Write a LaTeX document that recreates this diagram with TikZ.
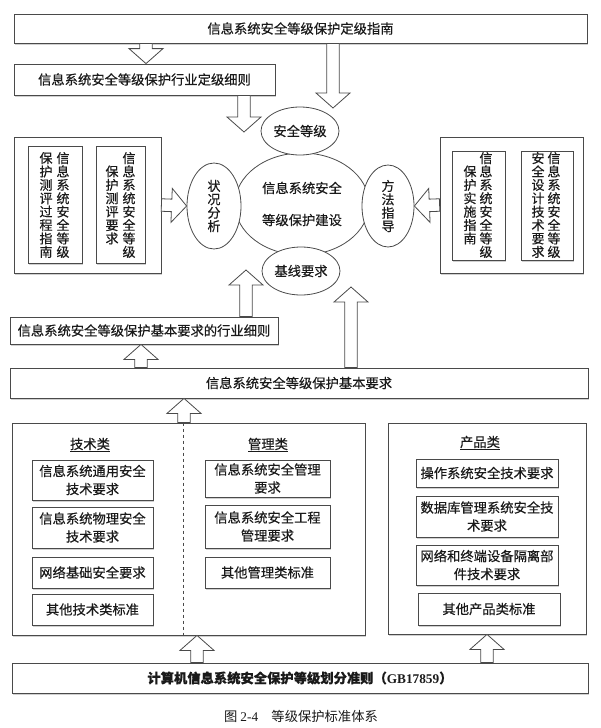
\documentclass[tikz,border=0pt]{standalone}
\usepackage{fontspec}
\setmainfont{Noto Sans CJK SC}[FakeBold=0.4]
\newfontfamily\capf{Noto Sans CJK SC}
\newfontfamily\latf{Liberation Serif}
\usetikzlibrary{shapes.geometric,calc,shadows}
\definecolor{ln}{HTML}{4A4A4A}
\definecolor{tx}{HTML}{1A1A1A}
\newcommand\myfs{\fontsize{13.3}{18}\selectfont}
\newcommand\myvs{\fontsize{13}{13.4}\selectfont\lineskiplimit=-6pt}
\tikzset{
 box/.style={draw=ln, line width=0.8pt, fill=white, inner sep=0pt, text=tx, font=\myfs, align=center,
   drop shadow={shadow xshift=1pt, shadow yshift=-1.8pt, fill=black!30, opacity=0.6}},
 ell/.style={ellipse, draw=ln, line width=0.8pt, fill=white, inner sep=0pt, text=tx, font=\myfs, align=center},
 barrow/.style={draw=ln, line width=0.8pt, fill=white, line join=miter},
 vcol/.style={inner sep=0pt, text=tx, font=\myvs, align=center},
 headtxt/.style={inner sep=0pt, text=tx, font=\myfs},
 divider/.style={draw=ln, line width=0.6pt, dashed},
}
% hollow block arrow from #1 (tail) to #2 (tip)
\newcommand\barr[2]{%
\draw[barrow] let \p1=(#1), \p2=(#2), \n1={atan2(\y2-\y1,\x2-\x1)}, \n2={veclen(\x2-\x1,\y2-\y1)} in
 ($(\p1)+(\n1+90:6.25pt)$) -- ($(\p1)+(\n1:\n2*1pt-15pt)+(\n1+90:6.25pt)$) --
 ($(\p1)+(\n1:\n2*1pt-15pt)+(\n1+90:17pt)$) -- (\p2) --
 ($(\p1)+(\n1:\n2*1pt-15pt)+(\n1-90:17pt)$) -- ($(\p1)+(\n1:\n2*1pt-15pt)+(\n1-90:6.25pt)$) --
 ($(\p1)+(\n1-90:6.25pt)$) -- cycle;}
\begin{document}
\begin{tikzpicture}[x=1pt,y=-1pt]
\path[use as bounding box, fill=white] (0,0) rectangle (600,728);
% ---------- top
\node[box, minimum width=573pt, minimum height=29pt] (top) at (300.5,28.5) {信息系统安全等级保护定级指南};
\node[box, minimum width=261pt, minimum height=31pt] (hd) at (144.5,79.5) {信息系统安全等级保护行业定级细则};
% ---------- left panel
\node[box, minimum width=147pt, minimum height=136pt] (lp) at (87.5,205) {};
\node[box, minimum width=54pt, minimum height=117pt] (lp1) at (55,204.5) {};
\node[box, minimum width=49pt, minimum height=117pt] (lp2) at (120.5,204.5) {};
\node[vcol] (lp1a) at (63,205) {信\\息\\系\\统\\安\\全\\等\\级};
\node[vcol] (lp1b) at (46,205) {保\\护\\测\\评\\过\\程\\指\\南};
\node[vcol] (lp2a) at (129,205) {信\\息\\系\\统\\安\\全\\等\\级};
\node[vcol] (lp2b) at (112,205) {保\\护\\测\\评\\要\\求};
% ---------- right panel
\node[box, minimum width=143pt, minimum height=136pt] (rp) at (511.5,205) {};
\node[box, minimum width=53pt, minimum height=109pt] (rp1) at (478.5,205.5) {};
\node[box, minimum width=52pt, minimum height=109pt] (rp2) at (547,205.5) {};
\node[vcol] (rp1a) at (486,205) {信\\息\\系\\统\\安\\全\\等\\级};
\node[vcol] (rp1b) at (470,205) {保\\护\\实\\施\\指\\南};
\node[vcol] (rp2a) at (554,205) {信\\息\\系\\统\\安\\全\\等\\级};
\node[vcol] (rp2b) at (538,205) {安\\全\\设\\计\\技\\术\\要\\求};
% ---------- centre ellipses
\node[ell, minimum width=134pt, minimum height=102pt, font={\fontsize{13.3}{32}\selectfont}] (core) at (302,204) {信息系统安全\\等级保护建设};
\node[ell, minimum width=78pt, minimum height=48pt] (aq) at (300,131) {安全等级};
\node[ell, minimum width=78pt, minimum height=48pt] (jx) at (301,271) {基线要求};
\node[ell, minimum width=54pt, minimum height=86pt, font=\myvs] (zk) at (214,206) {状\\况\\分\\析};
\node[ell, minimum width=52pt, minimum height=82pt, font=\myvs] (fz) at (388,206) {方\\法\\指\\导};
% ---------- middle bars
\node[box, minimum width=268pt, minimum height=27pt] (hy) at (144,330.5) {信息系统安全等级保护基本要求的行业细则};
\node[box, minimum width=578pt, minimum height=30pt] (jb) at (299,383) {信息系统安全等级保护基本要求};
% ---------- lower left big box
\node[box, minimum width=353pt, minimum height=212pt] (bl) at (188.5,529) {};
\draw[divider] (183,0 |- bl.north) -- (183,0 |- bl.south);
\node[headtxt] (jsl) at (90,445) {\underline{技术类}};
\node[headtxt] (gll) at (268,445) {\underline{管理类}};
\node[box, minimum width=121pt, minimum height=40pt] (t1) at (92.5,480) {信息系统通用安全\\技术要求};
\node[box, minimum width=121pt, minimum height=41pt] (t2) at (92.5,527.5) {信息系统物理安全\\技术要求};
\node[box, minimum width=121pt, minimum height=31pt] (t3) at (92.5,572.5) {网络基础安全要求};
\node[box, minimum width=121pt, minimum height=31pt] (t4) at (92.5,609.5) {其他技术类标准};
\node[box, minimum width=125pt, minimum height=37pt] (m1) at (267.5,478.5) {信息系统安全管理\\要求};
\node[box, minimum width=125pt, minimum height=43pt] (m2) at (267.5,526.5) {信息系统安全工程\\管理要求};
\node[box, minimum width=125pt, minimum height=31pt] (m3) at (267.5,572.5) {其他管理类标准};
% ---------- lower right big box
\node[box, minimum width=198pt, minimum height=211pt] (br) at (487,528.5) {};
\node[headtxt] (cpl) at (480,443) {\underline{产品类}};
\node[box, minimum width=142pt, minimum height=28pt] (p1) at (487,473) {操作系统安全技术要求};
\node[box, minimum width=142pt, minimum height=41pt] (p2) at (487,516.5) {数据库管理系统安全技\\术要求};
\node[box, minimum width=142pt, minimum height=40pt] (p3) at (487,565) {网络和终端设备隔离部\\件技术要求};
\node[box, minimum width=142pt, minimum height=32pt] (p4) at (489,609) {其他产品类标准};
% ---------- bottom
\node[box, minimum width=576pt, minimum height=30pt] (bt) at (300,678) {\bfseries 计算机信息系统安全保护等级划分准则（{\latf GB17859}）};
\node[headtxt, font={\myfs\capf}] (cap) at (301,716) {图 {\latf 2-4}\quad 等级保护标准体系};
% ---------- free ends
\coordinate (aqtip) at (333,108);
\coordinate (hdtip) at (244,132);
\coordinate (hytip) at (246,270);
\coordinate (jbtip) at (351,287);
% ---------- block arrows
\barr{146,0 |- top.south}{146,0 |- hd.north}
\barr{333,0 |- top.south}{aqtip}
\barr{244,0 |- hd.south}{hdtip}
\barr{lp.east}{zk.west}
\barr{rp.west}{fz.east}
\barr{246,0 |- hy.north}{hytip}
\barr{351,0 |- jb.north}{jbtip}
\barr{141,0 |- jb.north}{141,0 |- hy.south}
\barr{184,0 |- bl.north}{184,0 |- jb.south}
\barr{197,0 |- bt.north}{197,0 |- bl.south}
\barr{487,0 |- bt.north}{487,0 |- br.south}
\end{tikzpicture}
\end{document}
